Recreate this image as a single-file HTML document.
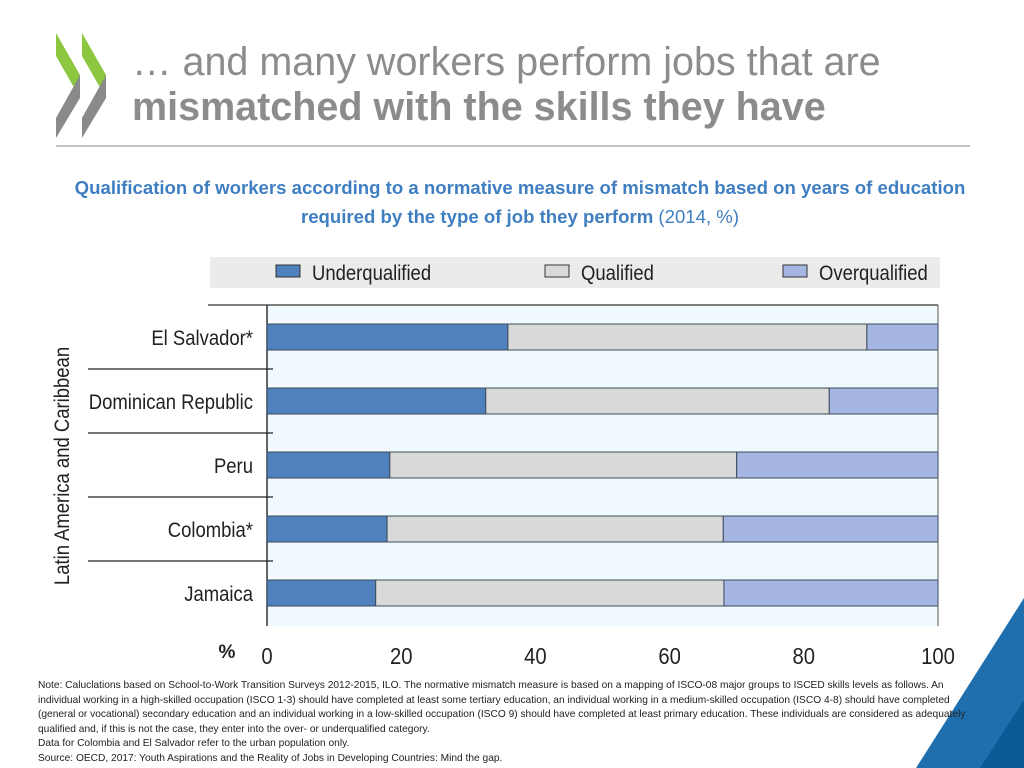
<!DOCTYPE html>
<html><head><meta charset="utf-8"><style>
body{margin:0;width:1024px;height:768px;overflow:hidden;background:#fff;font-family:"Liberation Sans",sans-serif;position:relative}
.abs{position:absolute}
</style></head><body>
<svg class="abs" style="left:0;top:0" width="1024" height="768">
  <g>
    <polygon points="56,33 80,75 80,98 56,56" fill="#8dc63f"/>
    <polygon points="56,138 80,98 80,75 56,118" fill="#8a8a8a"/>
    <polygon points="82,33 106,75 106,98 82,56" fill="#8dc63f"/>
    <polygon points="82,138 106,98 106,75 82,118" fill="#8a8a8a"/>
  </g>
  <line x1="56" y1="146" x2="970" y2="146" stroke="#b0b0b0" stroke-width="1.5"/>
  <polygon points="916,768 1024,598 1024,768" fill="#1f6fae"/>
  <polygon points="980,768 1024,700 1024,768" fill="#0b5a96"/>
</svg>
<div class="abs" style="left:132px;top:40px;font-size:39.5px;color:#8c8c8c;line-height:45px">… and many workers perform jobs that are<br><b>mismatched with the skills they have</b></div>
<div class="abs" style="left:20px;top:173px;width:1000px;text-align:center;font-size:18.6px;color:#3f7fc1;line-height:29px;font-weight:bold">Qualification of workers according to a normative measure of mismatch based on years of education<br>required by the type of job they perform <span style="font-weight:normal">(2014, %)</span></div>
<svg class="abs" id="chart" style="left:0;top:0" width="1024" height="768"></svg>
<div class="abs" style="left:38px;top:679px;width:950px;font-size:10.2px;line-height:14.5px;color:#222">Note: Caluclations based on School-to-Work Transition Surveys 2012-2015, ILO. The normative mismatch measure is based on a mapping of ISCO-08 major groups to ISCED skills levels as follows. An individual working in a high-skilled occupation (ISCO 1-3) should have completed at least some tertiary education, an individual working in a medium-skilled occupation (ISCO 4-8) should have completed (general or vocational) secondary education and an individual working in a low-skilled occupation (ISCO 9) should have completed at least primary education. These individuals are considered as adequately qualified and, if this is not the case, they enter into the over- or underqualified category.<br>Data for Colombia and El Salvador refer to the urban population only.<br>Source: OECD, 2017: Youth Aspirations and the Reality of Jobs in Developing Countries: Mind the gap.</div>
<script>
const categories=["El Salvador*","Dominican Republic","Peru","Colombia*","Jamaica"];
const underq=[35.9,32.6,18.3,17.9,16.2];
const qualified=[53.5,51.2,51.7,50.1,51.9];
const overq=[10.6,16.2,30.0,32.0,31.9];
const ticks=[0,20,40,60,80,100];
const seriesNames=["Underqualified","Qualified","Overqualified"];
const colors=["#4f81bd","#d9d9d9","#a5b6e3"];
const NS="http://www.w3.org/2000/svg";
const svg=document.getElementById("chart");
const L=267,R=938,T=305,B=626,rowH=64;
const x=v=>L+(v/100)*(R-L);
const yc=i=>T+32+i*rowH;
function mk(tag,attrs){const e=document.createElementNS(NS,tag);for(const k in attrs)e.setAttribute(k,attrs[k]);svg.appendChild(e);return e;}
function txt(s,attrs){const e=mk("text",attrs);e.textContent=s;return e;}
const bg=mk("rect",{x:L,y:T,width:R-L,height:B-T,fill:"#f0f9fd"});


const tl=mk("line",{x1:208,y1:T,x2:R,y2:T,stroke:"#555","stroke-width":1.5});


const rl=mk("line",{x1:R,y1:T,x2:R,y2:B,stroke:"#555","stroke-width":1});


const ax=mk("line",{x1:L,y1:T,x2:L,y2:B,stroke:"#333","stroke-width":1.5});


const series=[underq,qualified,overq];
categories.forEach((c,i)=>{
  let acc=0;
  series.forEach((s,k)=>{
    const r=mk("rect",{x:x(acc),y:yc(i)-13,width:x(acc+s[i])-x(acc),height:26,fill:colors[k],stroke:"#3a4a5a","stroke-width":1});
    
    
    acc+=s[i];
  });
  const t=txt(c,{x:253,y:yc(i)+8,"text-anchor":"end","font-size":21,fill:"#222"});
  t.setAttribute("transform",`translate(253 0) scale(0.88 1) translate(-253 0)`);
  
  
  if(i<categories.length-1){
    const sl=mk("line",{x1:88,y1:yc(i)+32,x2:273,y2:yc(i)+32,stroke:"#222","stroke-width":1.2});
    
    
  }
});
ticks.forEach(v=>{
  const t=txt(String(v),{x:x(v),y:664,"text-anchor":"middle","font-size":23,fill:"#222"});
  t.setAttribute("transform",`translate(${x(v)} 0) scale(0.88 1) translate(${-x(v)} 0)`);
  
  
});
const pct=txt("%",{x:227,y:658,"text-anchor":"middle","font-size":19,"font-weight":"bold",fill:"#222"});


const yt=txt("Latin America and Caribbean",{x:0,y:0,"text-anchor":"middle","font-size":21,fill:"#222",transform:"translate(69 466) rotate(-90) scale(0.88 1)"});


const lb=mk("rect",{x:210,y:257,width:730,height:31,fill:"#ebebeb"});


const lx=[276,545,783];
seriesNames.forEach((n,k)=>{
  const s=mk("rect",{x:lx[k],y:265,width:24,height:12,fill:colors[k],stroke:"#333","stroke-width":1});
  
  
  const t=txt(n,{x:lx[k]+36,y:280,"font-size":21,fill:"#222"});
  t.setAttribute("transform",`translate(${lx[k]+36} 0) scale(0.88 1) translate(${-(lx[k]+36)} 0)`);
  
  
});
</script>
</body></html>
